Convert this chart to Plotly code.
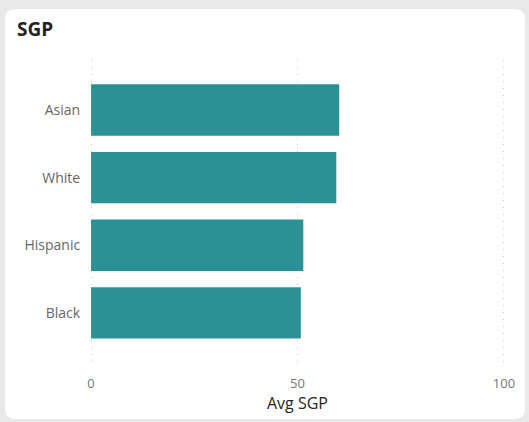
import plotly.graph_objects as go

categories = ["Asian", "White", "Hispanic", "Black"]
avg_sgp = [60.1, 59.4, 51.4, 50.8]
x_ticks = [0, 50, 100]

W, H = 529, 422
ML, MR, MT, MB = 89, 23, 60, 55
pw = W - ML - MR
ph = H - MT - MB

def px_x(px):
    return (px - ML) / pw

def px_y(py):
    return (H - MB - py) / ph

fig = go.Figure(go.Bar(
    x=avg_sgp, y=categories, orientation="h",
    marker=dict(color="#2b9197", line=dict(width=0)),
    width=0.76,
))

# card with rounded corners
x0, x1, y0, y1, r = 5, 525, 9, 419, 10
def P(px, py):
    return f"{px_x(px):.5f},{px_y(py):.5f}"
path = (f"M {P(x0+r, y0)} L {P(x1-r, y0)} Q {P(x1, y0)} {P(x1, y0+r)} "
        f"L {P(x1, y1-r)} Q {P(x1, y1)} {P(x1-r, y1)} L {P(x0+r, y1)} "
        f"Q {P(x0, y1)} {P(x0, y1-r)} L {P(x0, y0+r)} Q {P(x0, y0)} {P(x0+r, y0)} Z")

fig.update_layout(
    width=W, height=H,
    margin=dict(l=ML, r=MR, t=MT, b=MB),
    paper_bgcolor="#e9e9e9",
    plot_bgcolor="rgba(0,0,0,0)",
    showlegend=False,
    shapes=[dict(type="path", xref="paper", yref="paper", path=path,
                 fillcolor="white", line=dict(width=0), layer="below")],
    title=dict(text="<b>SGP</b>", x=17 / W, xanchor="left", y=1 - 29 / H, yanchor="middle",
               font=dict(family="Open Sans, sans-serif", size=19, color="#252423")),
    font=dict(family="Open Sans, sans-serif"),
)
fig.update_xaxes(
    range=[-0.5, 100.5], tickvals=x_ticks, ticktext=[str(v) for v in x_ticks],
    showgrid=True, gridcolor="#c8c8c8", gridwidth=1, griddash="1px,6px",
    zeroline=False, showline=False,
    tickfont=dict(size=13, color="#777777"), ticks="outside", ticklen=4, tickcolor="rgba(0,0,0,0)",
    title=dict(text="Avg SGP", font=dict(size=16, color="#252423"), standoff=0),
    fixedrange=True,
)
fig.update_yaxes(
    type="category", categoryorder="array", categoryarray=categories,
    range=[3.8, -0.74],
    showgrid=False, zeroline=False, showline=False,
    tickfont=dict(size=14, color="#666666"),
    ticks="outside", ticklen=5, tickcolor="rgba(0,0,0,0)",
    fixedrange=True,
)

fig.write_html("out.html", config={"displayModeBar": False},
               post_script="document.body.style.margin='0';document.body.style.overflow='hidden';")
